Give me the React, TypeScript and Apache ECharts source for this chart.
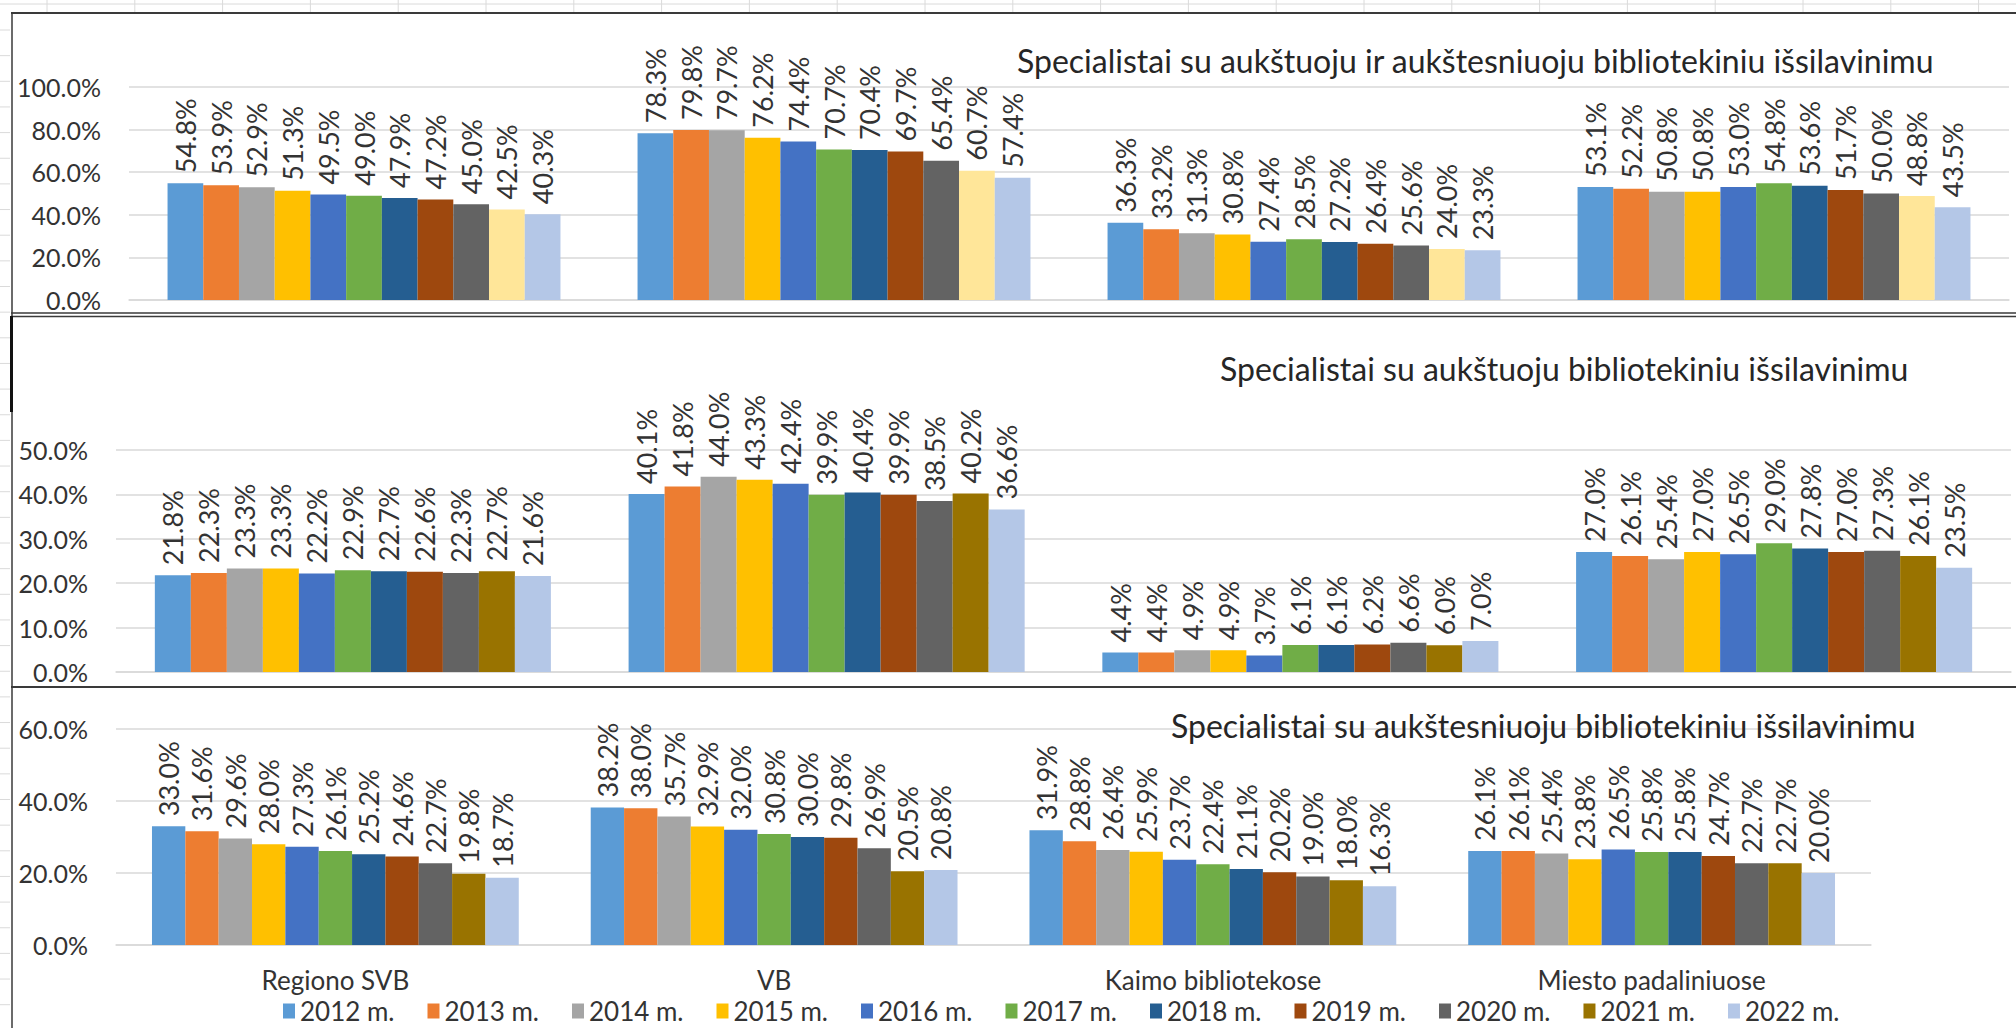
import React, { useEffect, useRef } from "react";
import * as echarts from "echarts";

// ---------- DATA ----------
const categories = ["Regiono SVB", "VB", "Kaimo bibliotekose", "Miesto padaliniuose"];
const years = ["2012 m.", "2013 m.", "2014 m.", "2015 m.", "2016 m.", "2017 m.", "2018 m.", "2019 m.", "2020 m.", "2021 m.", "2022 m."];

const titleTop = "Specialistai su aukštuoju ir aukštesniuoju bibliotekiniu išsilavinimu";
const titleMid = "Specialistai su aukštuoju bibliotekiniu išsilavinimu";
const titleBot = "Specialistai su aukštesniuoju bibliotekiniu išsilavinimu";

// Top panel: aukštuoju ir aukštesniuoju
const topRegiono = [54.8, 53.9, 52.9, 51.3, 49.5, 49.0, 47.9, 47.2, 45.0, 42.5, 40.3];
const topVB = [78.3, 79.8, 79.7, 76.2, 74.4, 70.7, 70.4, 69.7, 65.4, 60.7, 57.4];
const topKaimo = [36.3, 33.2, 31.3, 30.8, 27.4, 28.5, 27.2, 26.4, 25.6, 24.0, 23.3];
const topMiesto = [53.1, 52.2, 50.8, 50.8, 53.0, 54.8, 53.6, 51.7, 50.0, 48.8, 43.5];

// Middle panel: aukštuoju
const midRegiono = [21.8, 22.3, 23.3, 23.3, 22.2, 22.9, 22.7, 22.6, 22.3, 22.7, 21.6];
const midVB = [40.1, 41.8, 44.0, 43.3, 42.4, 39.9, 40.4, 39.9, 38.5, 40.2, 36.6];
const midKaimo = [4.4, 4.4, 4.9, 4.9, 3.7, 6.1, 6.1, 6.2, 6.6, 6.0, 7.0];
const midMiesto = [27.0, 26.1, 25.4, 27.0, 26.5, 29.0, 27.8, 27.0, 27.3, 26.1, 23.5];

// Bottom panel: aukštesniuoju
const botRegiono = [33.0, 31.6, 29.6, 28.0, 27.3, 26.1, 25.2, 24.6, 22.7, 19.8, 18.7];
const botVB = [38.2, 38.0, 35.7, 32.9, 32.0, 30.8, 30.0, 29.8, 26.9, 20.5, 20.8];
const botKaimo = [31.9, 28.8, 26.4, 25.9, 23.7, 22.4, 21.1, 20.2, 19.0, 18.0, 16.3];
const botMiesto = [26.1, 26.1, 25.4, 23.8, 26.5, 25.8, 25.8, 24.7, 22.7, 22.7, 20.0];

// Axis settings (max, interval)
const topAxis = [100, 20];
const midAxis = [50, 10];
const botAxis = [60, 20];

// Colours
const colors = ["#5B9BD5", "#ED7D31", "#A5A5A5", "#FFC000", "#4472C4", "#70AD47", "#255E91", "#9E480E", "#636363", "#997300", "#B4C7E7"];
const topColors = ["#5B9BD5", "#ED7D31", "#A5A5A5", "#FFC000", "#4472C4", "#70AD47", "#255E91", "#9E480E", "#636363", "#FFE699", "#B4C7E7"];

// ---------- OPTION ----------
const FONT = "Lato";
const TXT = "#333333";
const GRIDC = "#d9d9d9";

function buildOption() {
  const panels = [
    { data: [botRegiono, botVB, botKaimo, botMiesto], cols: colors, idx: 2 },
    { data: [topRegiono, topVB, topKaimo, topMiesto], cols: topColors, idx: 0 },
    { data: [midRegiono, midVB, midKaimo, midMiesto], cols: colors, idx: 1 },
  ];
  const series: any[] = [];
  panels.forEach((p) => {
    years.forEach((y, yi) => {
      series.push({
        type: "bar",
        name: y,
        xAxisIndex: p.idx,
        yAxisIndex: p.idx,
        data: p.data.map((arr) => arr[yi]),
        itemStyle: { color: p.cols[yi] },
        barGap: "0%",
        barCategoryGap: "16.4%",
        label: {
          show: true,
          position: "top",
          rotate: 90,
          align: "left",
          verticalAlign: "middle",
          distance: 10,
          formatter: (v: any) => Number(v.value).toFixed(1) + "%",
          fontFamily: FONT,
          fontSize: 27,
          color: TXT,
        },
      });
    });
  });

  const axes = [topAxis, midAxis, botAxis];
  const yAxis = axes.map((a, i) => ({
    gridIndex: i,
    type: "value",
    min: 0,
    max: a[0],
    interval: a[1],
    axisLine: { show: false },
    axisTick: { show: false },
    axisLabel: {
      formatter: (v: number) => v.toFixed(1) + "%",
      fontFamily: FONT,
      fontSize: 25,
      color: TXT,
      margin: 28,
    },
    splitLine: { lineStyle: { color: GRIDC, width: 1.5 } },
  }));
  const xAxis = axes.map((_, i) => ({
    gridIndex: i,
    type: "category",
    data: categories,
    axisLine: { show: true, lineStyle: { color: GRIDC, width: 1.5 } },
    axisTick: { show: false },
    axisLabel: { show: i === 2, fontFamily: FONT, fontSize: 26, color: TXT, margin: 22 },
  }));

  // decorative spreadsheet cell lines and panel borders
  const graphic: any[] = [];
  for (let x = 47; x < 2016; x += 87.8) {
    graphic.push({ type: "line", shape: { x1: x, y1: 0, x2: x, y2: 12 }, style: { stroke: "#dadada", lineWidth: 1 }, silent: true });
  }
  graphic.push({ type: "line", shape: { x1: 0, y1: 4, x2: 2016, y2: 4 }, style: { stroke: "#dadada", lineWidth: 1 }, silent: true });
  for (let y = 30; y < 1028; y += 25.65) {
    graphic.push({ type: "line", shape: { x1: 0, y1: y, x2: 10, y2: y }, style: { stroke: "#dadada", lineWidth: 1 }, silent: true });
  }
  const B = "#3a3a3a";
  graphic.push({ type: "line", shape: { x1: 11, y1: 13, x2: 2016, y2: 13 }, style: { stroke: B, lineWidth: 2 }, silent: true });
  graphic.push({ type: "line", shape: { x1: 11, y1: 313, x2: 2016, y2: 313 }, style: { stroke: B, lineWidth: 1.5 }, silent: true });
  graphic.push({ type: "line", shape: { x1: 11, y1: 316.5, x2: 2016, y2: 316.5 }, style: { stroke: B, lineWidth: 1.5 }, silent: true });
  graphic.push({ type: "line", shape: { x1: 11, y1: 687, x2: 2016, y2: 687 }, style: { stroke: B, lineWidth: 2 }, silent: true });
  graphic.push({ type: "line", shape: { x1: 12, y1: 13, x2: 12, y2: 1028 }, style: { stroke: B, lineWidth: 1.5 }, silent: true });
  graphic.push({ type: "line", shape: { x1: 11.5, y1: 316, x2: 11.5, y2: 412 }, style: { stroke: "#111", lineWidth: 3 }, silent: true });

  const tStyle = { fontFamily: FONT, fontSize: 32, fontWeight: "normal", color: "#262626", lineHeight: 38 };
  return {
    animation: false,
    backgroundColor: "#ffffff",
    title: [
      { text: titleTop, left: 1017, top: 41, padding: 0, textStyle: tStyle },
      { text: titleMid, left: 1220, top: 349, padding: 0, textStyle: tStyle },
      { text: titleBot, left: 1171, top: 706, padding: 0, textStyle: tStyle },
    ],
    legend: {
      data: years.map((y, i) => ({ name: y, itemStyle: { color: colors[i] } })),
      icon: "rect",
      itemWidth: 12,
      itemHeight: 15,
      itemGap: 33,
      left: 283,
      top: 998,
      padding: 0,
      textStyle: { fontFamily: FONT, fontSize: 26, color: TXT },
    },
    grid: [
      { left: 129, right: 7, top: 87, height: 213, outerBoundsMode: "none" },
      { left: 116, right: 5, top: 450, height: 222, outerBoundsMode: "none" },
      { left: 116, right: 145, top: 729, height: 216, outerBoundsMode: "none" },
    ],
    xAxis,
    yAxis,
    series,
    graphic,
  };
}

export default function App() {
  const ref = useRef<HTMLDivElement>(null);
  useEffect(() => {
    if (!ref.current) return;
    const chart = echarts.init(ref.current, null, { renderer: "svg" });
    chart.setOption(buildOption() as any);
    return () => chart.dispose();
  }, []);
  return (
    <div
      ref={ref}
      style={{ position: "fixed", left: 0, top: 0, width: 2016, height: 1028, background: "#ffffff" }}
    />
  );
}
